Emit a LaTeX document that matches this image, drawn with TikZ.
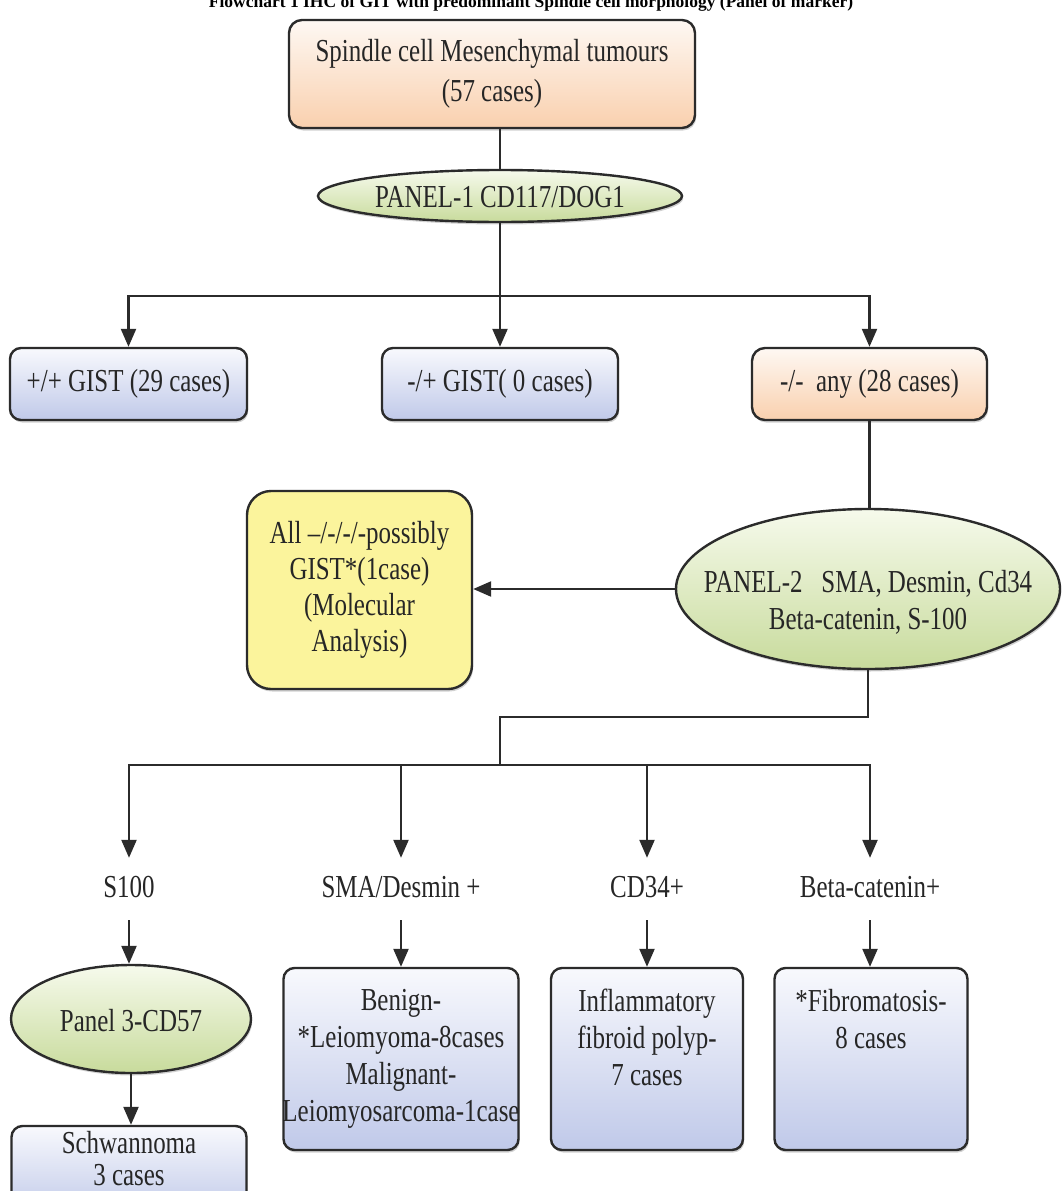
\documentclass[tikz,border=0pt]{standalone}
\usepackage{fontspec}
\setmainfont{Liberation Serif}[FakeStretch=0.78]
\newfontfamily\titlefont{Liberation Serif}
\usetikzlibrary{shapes.geometric,arrows.meta,shadows}
\definecolor{orTop}{HTML}{FEF8F3}
\definecolor{orBot}{HTML}{F9D0AE}
\definecolor{grTop}{HTML}{F6FAEC}
\definecolor{grBot}{HTML}{C8DB9C}
\definecolor{blTop}{HTML}{F8F9FD}
\definecolor{blBot}{HTML}{C0C9E9}
\definecolor{yel}{HTML}{FBF49C}
\definecolor{bord}{HTML}{2B2B2B}
\definecolor{txt}{HTML}{262626}
\newcommand\mainsz{\fontsize{32}{37}\selectfont}
\begin{document}
\begin{tikzpicture}[x=1pt,y=-1pt,
  base/.style={draw=bord, line width=2.4pt, text=txt, font=\mainsz, align=center, inner sep=0pt,
    drop shadow={shadow xshift=1.2pt, shadow yshift=-2.5pt, opacity=0.18, fill=black}},
  orangebox/.style={base, rounded corners=13pt, top color=orTop, bottom color=orBot},
  bluebox/.style={base, rounded corners=11pt, top color=blTop, bottom color=blBot},
  greenell/.style={base, ellipse, top color=grTop, bottom color=grBot},
  yellowbox/.style={base, rounded corners=24pt, fill=yel},
  txtst/.style={text=txt, font=\mainsz, align=center, inner sep=0pt},
  lbl/.style={txtst, text height=22pt, text depth=6pt, minimum height=62pt},
  conn/.style={line width=2.3pt, draw=bord},
  arr/.style={conn, -{Triangle[length=18pt,width=15pt]}}
]
\clip (0,0) rectangle (1061,1191);
\fill[white] (0,0) rectangle (1061,1191);

\node[font=\titlefont\bfseries\fontsize{17.5}{20}\selectfont, anchor=base, text=black, inner sep=0pt] (title) at (531,8)
  {Flowchart 1 IHC of GIT with predominant Spindle cell morphology (Panel of marker)};

% top box
\node[orangebox, minimum width=406pt, minimum height=108pt] (top) at (492,74) {Spindle cell Mesenchymal tumours\\[3pt](57 cases)};

% panel 1
\node[greenell, minimum width=364pt, minimum height=52pt] (p1) at (500,196) {};
\node[txtst] (p1t) at (500,197) {PANEL-1 CD117/DOG1};

% row 2
\node[bluebox, minimum width=237pt, minimum height=72pt] (b1) at (128.5,384) {+/+ GIST (29 cases)};
\node[bluebox, minimum width=236pt, minimum height=72pt] (b2) at (500,384) {-/+ GIST( 0 cases)};
\node[orangebox, minimum width=235pt, minimum height=72pt] (b3) at (869.5,384) {-/-\ \ any (28 cases)};

% panel 2 and yellow
\node[greenell, minimum width=384pt, minimum height=160pt] (p2) at (868,589) {};
\node[txtst] (p2t) at (868,602) {PANEL-2\ \ \ SMA, Desmin, Cd34\\Beta-catenin, S-100};
\node[yellowbox, minimum width=225pt, minimum height=198pt] (yb) at (359.5,590)
  {All \textendash/-/-/-possibly\\[-1pt]GIST*(1case)\\[-1pt](Molecular\\[-1pt]Analysis)};

% labels
\node[lbl] (l1) at (129,889) {S100};
\node[lbl] (l2) at (401,889) {SMA/Desmin +};
\node[lbl] (l3) at (647,889) {CD34+};
\node[lbl] (l4) at (870,889) {Beta-catenin+};

% bottom row
\node[greenell, minimum width=240pt, minimum height=108pt] (p3) at (131,1019) {};
\node[txtst] (p3t) at (131,1021) {Panel 3-CD57};
\node[bluebox, minimum width=235pt, minimum height=182pt] (sma) at (401,1059) {};
\node[txtst, anchor=north] (smat) at ([yshift=-22pt]sma.north) {Benign-\\*Leiomyoma-8cases\\Malignant-\\Leiomyosarcoma-1case};
\node[bluebox, minimum width=192pt, minimum height=182pt] (inf) at (647,1059) {};
\node[txtst, anchor=north] (inft) at ([yshift=-22pt]inf.north) {Inflammatory\\fibroid polyp-\\7 cases};
\node[bluebox, minimum width=193pt, minimum height=182pt] (fib) at (871,1059) {};
\node[txtst, anchor=north] (fibt) at ([yshift=-22pt]fib.north) {*Fibromatosis-\\8 cases};
\node[bluebox, minimum width=235pt, minimum height=90pt] (sch) at (129,1171) {};
\node[txtst, anchor=north] (scht) at ([yshift=-6pt]sch.north) {Schwannoma\\[-5pt]3 cases};

% connectors
\draw[conn] (top.south -| p1.north) -- (p1.north);
\coordinate (j1) at (500,296);
\draw[conn] (p1.south) -- (j1);
\draw[arr] (j1) -| (b1.north);
\draw[arr] (j1) -| (b3.north);
\draw[arr] (j1) -- (b2.north);
\draw[conn] (b3.south) -- (b3.south |- p2.north);
\draw[arr] (p2.west) -- (p2.west -| yb.east);
\coordinate (j2) at (868,717);
\coordinate (j3) at (500,717);
\coordinate (j4) at (500,765);
\draw[conn] (p2.south) -- (j2) -- (j3) -- (j4);
\draw[arr] (j4) -| (l1.north);
\draw[arr] (j4) -| (l2.north);
\draw[arr] (j4) -| (l3.north);
\draw[arr] (j4) -| (l4.north);
\draw[arr] (l1.south) -- (p3.north -| l1.south);
\draw[arr] (l2.south) -- (sma.north);
\draw[arr] (l3.south) -- (inf.north);
\draw[arr] (l4.south) -- (l4.south |- fib.north);
\draw[arr] (p3.south) -- (p3.south |- sch.north);
\end{tikzpicture}
\end{document}
